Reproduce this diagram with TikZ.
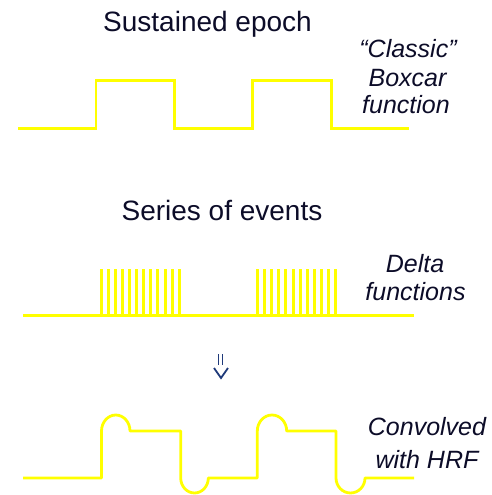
\documentclass[tikz,border=0pt]{standalone}
\usepackage{fontspec}
\setmainfont{Liberation Sans}
\definecolor{navy}{RGB}{12,12,40}
\definecolor{arrowblue}{RGB}{31,58,122}
\definecolor{sig}{RGB}{255,255,0}
\begin{document}
\begin{tikzpicture}[x=1pt,y=-1pt,
  title/.style={anchor=base,inner sep=0pt,text=navy,font=\fontsize{28}{34}\selectfont},
  lab/.style={anchor=base,inner sep=0pt,text=navy,font=\fontsize{25}{28}\selectfont\itshape},
  wave/.style={draw=sig,line width=2.8pt,line join=miter},
  spike/.style={draw=sig,line width=3pt}]
\useasboundingbox (0,0) rectangle (491,495);
% titles
\node[title] (t1) at (207.5,32) {Sustained epoch};
\node[title] (t2) at (222,220.7) {Series of events};
% labels
\node[lab] (l1a) at (408,57) {“Classic”};
\node[lab] (l1b) at (407.5,86) {Boxcar};
\node[lab] (l1c) at (406,113) {function};
\node[lab] (l2a) at (415,272.7) {Delta};
\node[lab] (l2b) at (415.5,300) {functions};
\node[lab] (l3a) at (427,435.5) {Convolved};
\node[lab] (l3b) at (427,468) {with HRF};
% boxcar
\draw[wave] (18,128.3) -- (96,128.3) -- (96,80.7) -- (174.3,80.7) -- (174.3,128.3)
  -- (252.3,128.3) -- (252.3,80.7) -- (331.7,80.7) -- (331.7,128.3) -- (409,128.3);
% delta functions
\foreach \i in {0,...,11}{
  \draw[spike] ({101+7.12*\i},315.5) -- ({101+7.12*\i},268.5);
  \draw[spike] ({257.3+7.15*\i},315.5) -- ({257.3+7.15*\i},268.5);
}
\draw[wave,line width=3pt] (23,315.5) -- (414,315.5);
% arrow
\draw[arrowblue,line width=1.7pt] (218.5,354) -- (218.5,365) (222.5,354) -- (222.5,365);
\draw[arrowblue,line width=1.8pt,line join=miter] (214,368) -- (221,378) -- (228,368);
% convolved
\draw[wave,line join=round] (23,478) -- (101.5,478) -- (101.5,431)
  arc[start angle=180,end angle=360,x radius=14.25,y radius=16] -- (180.7,431) -- (180.7,478)
  arc[start angle=180,end angle=0,x radius=13.8,y radius=15] -- (257.3,478) -- (257.3,431)
  arc[start angle=180,end angle=360,x radius=14.7,y radius=16] -- (336,431) -- (336,478)
  arc[start angle=180,end angle=0,x radius=14.5,y radius=15] -- (414,478);
\end{tikzpicture}
\end{document}
